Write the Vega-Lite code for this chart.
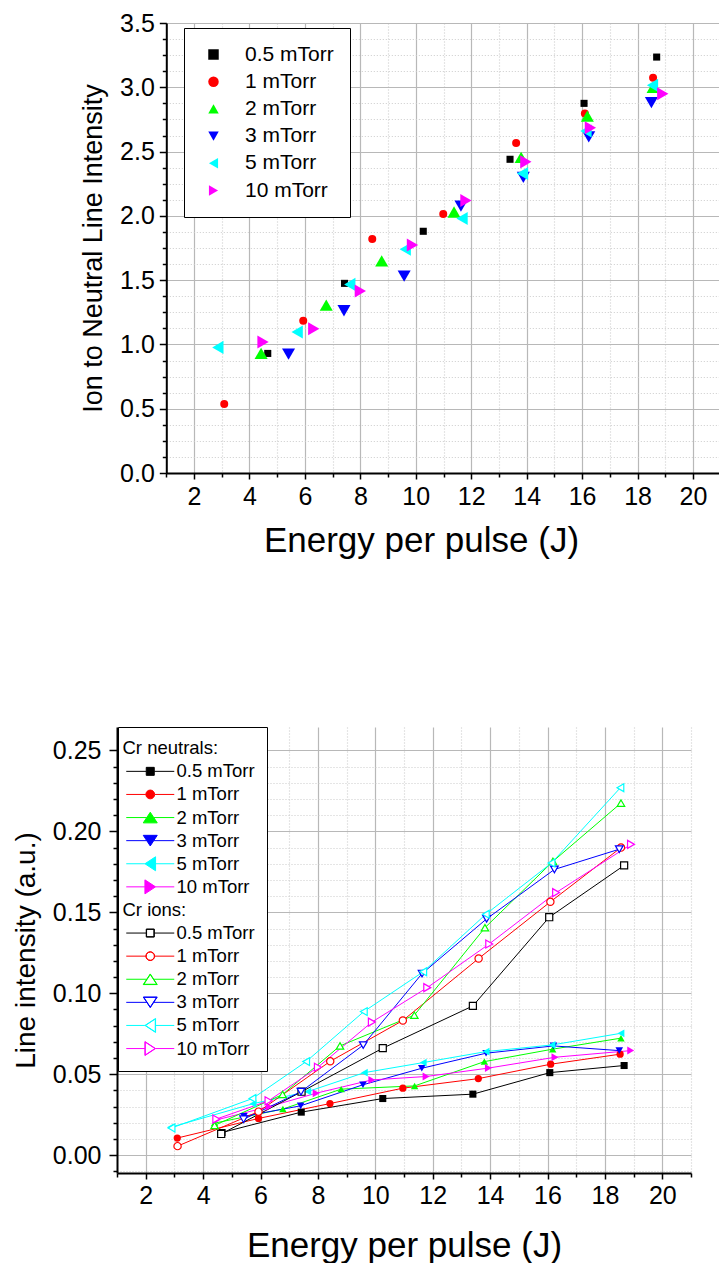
{
  "$schema": "https://vega.github.io/schema/vega-lite/v6.json",
  "padding": {"left": 12, "top": 11, "right": 0, "bottom": 0},
  "spacing": 168,
  "config": {"view": {"stroke": null}, "font": "Liberation Sans"},
  "resolve": {
    "scale": {"color": "independent", "shape": "independent", "size": "independent", "stroke": "independent"},
    "legend": {"color": "independent", "shape": "independent", "size": "independent", "stroke": "independent"}
  },
  "datasets": {
    "ratio": [
      {"p": "0.5 mTorr", "E": 4.66, "R": 0.93}, {"p": "0.5 mTorr", "E": 7.43, "R": 1.475}, {"p": "0.5 mTorr", "E": 10.27, "R": 1.88}, {"p": "0.5 mTorr", "E": 13.40, "R": 2.44}, {"p": "0.5 mTorr", "E": 16.07, "R": 2.875}, {"p": "0.5 mTorr", "E": 18.69, "R": 3.235},
      {"p": "1 mTorr", "E": 3.09, "R": 0.537}, {"p": "1 mTorr", "E": 5.94, "R": 1.185}, {"p": "1 mTorr", "E": 8.43, "R": 1.82}, {"p": "1 mTorr", "E": 10.99, "R": 2.014}, {"p": "1 mTorr", "E": 13.62, "R": 2.566}, {"p": "1 mTorr", "E": 16.10, "R": 2.797}, {"p": "1 mTorr", "E": 18.56, "R": 3.074},
      {"p": "2 mTorr", "E": 4.42, "R": 0.93}, {"p": "2 mTorr", "E": 6.77, "R": 1.306}, {"p": "2 mTorr", "E": 8.77, "R": 1.65}, {"p": "2 mTorr", "E": 11.38, "R": 2.03}, {"p": "2 mTorr", "E": 13.80, "R": 2.455}, {"p": "2 mTorr", "E": 16.19, "R": 2.776}, {"p": "2 mTorr", "E": 18.56, "R": 3.0},
      {"p": "3 mTorr", "E": 5.41, "R": 0.925}, {"p": "3 mTorr", "E": 7.41, "R": 1.262}, {"p": "3 mTorr", "E": 9.58, "R": 1.532}, {"p": "3 mTorr", "E": 11.63, "R": 2.076}, {"p": "3 mTorr", "E": 13.88, "R": 2.30}, {"p": "3 mTorr", "E": 16.24, "R": 2.615}, {"p": "3 mTorr", "E": 18.50, "R": 2.88},
      {"p": "5 mTorr", "E": 2.86, "R": 0.977}, {"p": "5 mTorr", "E": 5.72, "R": 1.096}, {"p": "5 mTorr", "E": 7.62, "R": 1.467}, {"p": "5 mTorr", "E": 9.62, "R": 1.74}, {"p": "5 mTorr", "E": 11.67, "R": 1.98}, {"p": "5 mTorr", "E": 13.85, "R": 2.33}, {"p": "5 mTorr", "E": 16.14, "R": 2.66}, {"p": "5 mTorr", "E": 18.54, "R": 3.015},
      {"p": "10 mTorr", "E": 4.49, "R": 1.019}, {"p": "10 mTorr", "E": 6.32, "R": 1.122}, {"p": "10 mTorr", "E": 8.00, "R": 1.415}, {"p": "10 mTorr", "E": 9.88, "R": 1.773}, {"p": "10 mTorr", "E": 11.81, "R": 2.12}, {"p": "10 mTorr", "E": 13.97, "R": 2.42}, {"p": "10 mTorr", "E": 16.30, "R": 2.685}, {"p": "10 mTorr", "E": 18.91, "R": 2.95}
    ],
    "lines": [
      {"t": "N", "p": "0.5 mTorr", "key": "N 0.5 mTorr", "E": 4.66, "I": 0.0140}, {"t": "N", "p": "0.5 mTorr", "key": "N 0.5 mTorr", "E": 7.42, "I": 0.0266}, {"t": "N", "p": "0.5 mTorr", "key": "N 0.5 mTorr", "E": 10.26, "I": 0.0350}, {"t": "N", "p": "0.5 mTorr", "key": "N 0.5 mTorr", "E": 13.40, "I": 0.0377}, {"t": "N", "p": "0.5 mTorr", "key": "N 0.5 mTorr", "E": 16.08, "I": 0.0510}, {"t": "N", "p": "0.5 mTorr", "key": "N 0.5 mTorr", "E": 18.67, "I": 0.0554},
      {"t": "N", "p": "1 mTorr", "key": "N 1 mTorr", "E": 3.10, "I": 0.0106}, {"t": "N", "p": "1 mTorr", "key": "N 1 mTorr", "E": 5.93, "I": 0.0227}, {"t": "N", "p": "1 mTorr", "key": "N 1 mTorr", "E": 8.42, "I": 0.0319}, {"t": "N", "p": "1 mTorr", "key": "N 1 mTorr", "E": 10.96, "I": 0.0414}, {"t": "N", "p": "1 mTorr", "key": "N 1 mTorr", "E": 13.59, "I": 0.0473}, {"t": "N", "p": "1 mTorr", "key": "N 1 mTorr", "E": 16.11, "I": 0.0562}, {"t": "N", "p": "1 mTorr", "key": "N 1 mTorr", "E": 18.53, "I": 0.0624},
      {"t": "N", "p": "2 mTorr", "key": "N 2 mTorr", "E": 4.40, "I": 0.0198}, {"t": "N", "p": "2 mTorr", "key": "N 2 mTorr", "E": 6.78, "I": 0.0285}, {"t": "N", "p": "2 mTorr", "key": "N 2 mTorr", "E": 8.81, "I": 0.0408}, {"t": "N", "p": "2 mTorr", "key": "N 2 mTorr", "E": 11.37, "I": 0.0428}, {"t": "N", "p": "2 mTorr", "key": "N 2 mTorr", "E": 13.80, "I": 0.0578}, {"t": "N", "p": "2 mTorr", "key": "N 2 mTorr", "E": 16.18, "I": 0.0655}, {"t": "N", "p": "2 mTorr", "key": "N 2 mTorr", "E": 18.56, "I": 0.0723},
      {"t": "N", "p": "3 mTorr", "key": "N 3 mTorr", "E": 5.42, "I": 0.0240}, {"t": "N", "p": "3 mTorr", "key": "N 3 mTorr", "E": 7.40, "I": 0.0305}, {"t": "N", "p": "3 mTorr", "key": "N 3 mTorr", "E": 9.57, "I": 0.0435}, {"t": "N", "p": "3 mTorr", "key": "N 3 mTorr", "E": 11.62, "I": 0.0537}, {"t": "N", "p": "3 mTorr", "key": "N 3 mTorr", "E": 13.86, "I": 0.0630}, {"t": "N", "p": "3 mTorr", "key": "N 3 mTorr", "E": 16.21, "I": 0.0675}, {"t": "N", "p": "3 mTorr", "key": "N 3 mTorr", "E": 18.50, "I": 0.0646},
      {"t": "N", "p": "5 mTorr", "key": "N 5 mTorr", "E": 2.86, "I": 0.0172}, {"t": "N", "p": "5 mTorr", "key": "N 5 mTorr", "E": 5.74, "I": 0.0318}, {"t": "N", "p": "5 mTorr", "key": "N 5 mTorr", "E": 7.65, "I": 0.0393}, {"t": "N", "p": "5 mTorr", "key": "N 5 mTorr", "E": 9.62, "I": 0.0510}, {"t": "N", "p": "5 mTorr", "key": "N 5 mTorr", "E": 11.67, "I": 0.0572}, {"t": "N", "p": "5 mTorr", "key": "N 5 mTorr", "E": 13.86, "I": 0.0640}, {"t": "N", "p": "5 mTorr", "key": "N 5 mTorr", "E": 16.16, "I": 0.0681}, {"t": "N", "p": "5 mTorr", "key": "N 5 mTorr", "E": 18.56, "I": 0.0753},
      {"t": "N", "p": "10 mTorr", "key": "N 10 mTorr", "E": 4.49, "I": 0.0219}, {"t": "N", "p": "10 mTorr", "key": "N 10 mTorr", "E": 6.30, "I": 0.0300}, {"t": "N", "p": "10 mTorr", "key": "N 10 mTorr", "E": 7.94, "I": 0.0383}, {"t": "N", "p": "10 mTorr", "key": "N 10 mTorr", "E": 9.88, "I": 0.0465}, {"t": "N", "p": "10 mTorr", "key": "N 10 mTorr", "E": 11.77, "I": 0.0486}, {"t": "N", "p": "10 mTorr", "key": "N 10 mTorr", "E": 13.94, "I": 0.0538}, {"t": "N", "p": "10 mTorr", "key": "N 10 mTorr", "E": 16.26, "I": 0.0605}, {"t": "N", "p": "10 mTorr", "key": "N 10 mTorr", "E": 18.90, "I": 0.0646},
      {"t": "I", "p": "0.5 mTorr", "key": "I 0.5 mTorr", "E": 4.63, "I": 0.0131}, {"t": "I", "p": "0.5 mTorr", "key": "I 0.5 mTorr", "E": 7.43, "I": 0.0392}, {"t": "I", "p": "0.5 mTorr", "key": "I 0.5 mTorr", "E": 10.26, "I": 0.0661}, {"t": "I", "p": "0.5 mTorr", "key": "I 0.5 mTorr", "E": 13.40, "I": 0.0922}, {"t": "I", "p": "0.5 mTorr", "key": "I 0.5 mTorr", "E": 16.06, "I": 0.1470}, {"t": "I", "p": "0.5 mTorr", "key": "I 0.5 mTorr", "E": 18.67, "I": 0.1790},
      {"t": "I", "p": "1 mTorr", "key": "I 1 mTorr", "E": 3.11, "I": 0.0056}, {"t": "I", "p": "1 mTorr", "key": "I 1 mTorr", "E": 5.93, "I": 0.0269}, {"t": "I", "p": "1 mTorr", "key": "I 1 mTorr", "E": 8.43, "I": 0.0580}, {"t": "I", "p": "1 mTorr", "key": "I 1 mTorr", "E": 10.96, "I": 0.0832}, {"t": "I", "p": "1 mTorr", "key": "I 1 mTorr", "E": 13.60, "I": 0.1215}, {"t": "I", "p": "1 mTorr", "key": "I 1 mTorr", "E": 16.10, "I": 0.1565}, {"t": "I", "p": "1 mTorr", "key": "I 1 mTorr", "E": 18.56, "I": 0.1900},
      {"t": "I", "p": "2 mTorr", "key": "I 2 mTorr", "E": 4.40, "I": 0.0184}, {"t": "I", "p": "2 mTorr", "key": "I 2 mTorr", "E": 6.77, "I": 0.0375}, {"t": "I", "p": "2 mTorr", "key": "I 2 mTorr", "E": 8.77, "I": 0.0675}, {"t": "I", "p": "2 mTorr", "key": "I 2 mTorr", "E": 11.36, "I": 0.0865}, {"t": "I", "p": "2 mTorr", "key": "I 2 mTorr", "E": 13.82, "I": 0.1405}, {"t": "I", "p": "2 mTorr", "key": "I 2 mTorr", "E": 16.19, "I": 0.1815}, {"t": "I", "p": "2 mTorr", "key": "I 2 mTorr", "E": 18.56, "I": 0.2175},
      {"t": "I", "p": "3 mTorr", "key": "I 3 mTorr", "E": 5.41, "I": 0.0222}, {"t": "I", "p": "3 mTorr", "key": "I 3 mTorr", "E": 7.41, "I": 0.0392}, {"t": "I", "p": "3 mTorr", "key": "I 3 mTorr", "E": 9.58, "I": 0.0680}, {"t": "I", "p": "3 mTorr", "key": "I 3 mTorr", "E": 11.63, "I": 0.1122}, {"t": "I", "p": "3 mTorr", "key": "I 3 mTorr", "E": 13.88, "I": 0.1460}, {"t": "I", "p": "3 mTorr", "key": "I 3 mTorr", "E": 16.24, "I": 0.1765}, {"t": "I", "p": "3 mTorr", "key": "I 3 mTorr", "E": 18.50, "I": 0.1890},
      {"t": "I", "p": "5 mTorr", "key": "I 5 mTorr", "E": 2.90, "I": 0.0168}, {"t": "I", "p": "5 mTorr", "key": "I 5 mTorr", "E": 5.72, "I": 0.0350}, {"t": "I", "p": "5 mTorr", "key": "I 5 mTorr", "E": 7.59, "I": 0.0578}, {"t": "I", "p": "5 mTorr", "key": "I 5 mTorr", "E": 9.60, "I": 0.0887}, {"t": "I", "p": "5 mTorr", "key": "I 5 mTorr", "E": 11.67, "I": 0.1133}, {"t": "I", "p": "5 mTorr", "key": "I 5 mTorr", "E": 13.85, "I": 0.1488}, {"t": "I", "p": "5 mTorr", "key": "I 5 mTorr", "E": 16.14, "I": 0.1805}, {"t": "I", "p": "5 mTorr", "key": "I 5 mTorr", "E": 18.54, "I": 0.2270},
      {"t": "I", "p": "10 mTorr", "key": "I 10 mTorr", "E": 4.46, "I": 0.0223}, {"t": "I", "p": "10 mTorr", "key": "I 10 mTorr", "E": 6.28, "I": 0.0336}, {"t": "I", "p": "10 mTorr", "key": "I 10 mTorr", "E": 8.00, "I": 0.0543}, {"t": "I", "p": "10 mTorr", "key": "I 10 mTorr", "E": 9.88, "I": 0.0822}, {"t": "I", "p": "10 mTorr", "key": "I 10 mTorr", "E": 11.81, "I": 0.1035}, {"t": "I", "p": "10 mTorr", "key": "I 10 mTorr", "E": 13.97, "I": 0.1305}, {"t": "I", "p": "10 mTorr", "key": "I 10 mTorr", "E": 16.30, "I": 0.1622}, {"t": "I", "p": "10 mTorr", "key": "I 10 mTorr", "E": 18.91, "I": 0.1920}
    ]
  },
  "vconcat": [
    {
      "width": 603.7,
      "height": 450,
      "data": {"name": "ratio"},
      "encoding": {
        "x": {
          "field": "E", "type": "quantitative",
          "scale": {"domain": [1, 21], "range": [49.3, 603.7], "nice": false, "zero": false},
          "axis": {
            "title": "Energy per pulse (J)",
            "values": [1, 2, 3, 4, 5, 6, 7, 8, 9, 10, 11, 12, 13, 14, 15, 16, 17, 18, 19, 20, 21],
            "format": "d",
            "labelExpr": "indexof([2,4,6,8,10,12,14,16,18,20], datum.value) >= 0 ? datum.label : ''",
            "grid": true,
            "gridColor": {"condition": {"test": "indexof([2,4,6,8,10,12,14,16,18,20], datum.value) >= 0", "value": "#b8b8b8"}, "value": "#cccccc"},
            "gridDash": {"condition": {"test": "indexof([2,4,6,8,10,12,14,16,18,20], datum.value) >= 0", "value": []}, "value": [1, 2]},
            "gridWidth": 1.2,
            "tickSize": {"condition": {"test": "indexof([2,4,6,8,10,12,14,16,18,20], datum.value) >= 0", "value": 6}, "value": 4},
            "tickColor": "#000", "tickWidth": 1.5,
            "domainColor": "#000", "domainWidth": 2,
            "labelFont": "Liberation Sans", "labelFontSize": 25, "labelColor": "#000", "labelPadding": 5,
            "labelOverlap": false, "labelFlush": false, "labelBound": false,
            "titleFont": "Liberation Sans", "titleFontSize": 35, "titleFontWeight": "normal", "titleColor": "#000", "titlePadding": 14,
            "titleX": 304
          }
        },
        "y": {
          "field": "R", "type": "quantitative",
          "scale": {"domain": [0, 3.5], "nice": false, "zero": false},
          "axis": {
            "title": "Ion to Neutral Line Intensity",
            "offset": -49.3,
            "values": [0, 0.125, 0.25, 0.375, 0.5, 0.625, 0.75, 0.875, 1, 1.125, 1.25, 1.375, 1.5, 1.625, 1.75, 1.875, 2, 2.125, 2.25, 2.375, 2.5, 2.625, 2.75, 2.875, 3, 3.125, 3.25, 3.375, 3.5],
            "labelExpr": "abs(datum.value*2 - round(datum.value*2)) < 0.001 ? format(datum.value, '.1f') : ''",
            "grid": true,
            "gridColor": {"condition": {"test": "abs(datum.value*2 - round(datum.value*2)) < 0.001", "value": "#b8b8b8"}, "value": "#cccccc"},
            "gridDash": {"condition": {"test": "abs(datum.value*2 - round(datum.value*2)) < 0.001", "value": []}, "value": [1, 2]},
            "gridWidth": 1.2,
            "tickSize": {"condition": {"test": "abs(datum.value*2 - round(datum.value*2)) < 0.001", "value": 7}, "value": 4},
            "tickColor": "#000", "tickWidth": 1.5,
            "domainColor": "#000", "domainWidth": 2,
            "labelFont": "Liberation Sans", "labelFontSize": 25, "labelColor": "#000", "labelPadding": 5,
            "labelOverlap": false, "labelFlush": false, "labelBound": false,
            "titleFont": "Liberation Sans", "titleFontSize": 27, "titleFontWeight": "normal", "titleColor": "#000", "titlePadding": 12
          }
        },
        "color": {
          "field": "p", "type": "nominal",
          "scale": {"domain": ["0.5 mTorr", "1 mTorr", "2 mTorr", "3 mTorr", "5 mTorr", "10 mTorr"], "range": ["#000000", "#ff0000", "#00ff00", "#0000ff", "#00ffff", "#ff00ff"]},
          "legend": {
            "title": null, "orient": "none", "legendX": 67, "legendY": 5,
            "strokeColor": "#000", "fillColor": "#ffffff", "padding": 16,
            "labelFont": "Liberation Sans", "labelFontSize": 21, "labelColor": "#000",
            "rowPadding": 5.2, "symbolOffset": 3, "labelOffset": 21, "symbolStrokeWidth": 0, "symbolSize": 110
          }
        },
        "shape": {
          "field": "p", "type": "nominal",
          "scale": {"domain": ["0.5 mTorr", "1 mTorr", "2 mTorr", "3 mTorr", "5 mTorr", "10 mTorr"], "range": ["square", "circle", "triangle-up", "triangle-down", "triangle-left", "triangle-right"]}
        }
      },
      "layer": [
        {"transform": [{"filter": "datum.p == '0.5 mTorr'"}], "mark": {"type": "point", "filled": true, "opacity": 1, "size": 50}},
        {"transform": [{"filter": "datum.p == '1 mTorr'"}], "mark": {"type": "point", "filled": true, "opacity": 1, "size": 64}},
        {"transform": [{"filter": "datum.p == '2 mTorr'"}], "mark": {"type": "point", "filled": true, "opacity": 1, "size": 170}},
        {"transform": [{"filter": "datum.p == '3 mTorr'"}], "mark": {"type": "point", "filled": true, "opacity": 1, "size": 170}},
        {"transform": [{"filter": "datum.p == '5 mTorr'"}], "mark": {"type": "point", "filled": true, "opacity": 1, "size": 170}},
        {"transform": [{"filter": "datum.p == '10 mTorr'"}], "mark": {"type": "point", "filled": true, "opacity": 1, "size": 170}}
      ]
    },
    {
      "width": 574,
      "height": 446,
      "data": {"name": "lines"},
      "encoding": {
        "x": {
          "field": "E", "type": "quantitative",
          "scale": {"domain": [1, 21], "nice": false, "zero": false},
          "axis": {
            "title": "Energy per pulse (J)",
            "values": [1, 2, 3, 4, 5, 6, 7, 8, 9, 10, 11, 12, 13, 14, 15, 16, 17, 18, 19, 20, 21],
            "format": "d",
            "labelExpr": "indexof([2,4,6,8,10,12,14,16,18,20], datum.value) >= 0 ? datum.label : ''",
            "grid": true,
            "gridColor": {"condition": {"test": "indexof([2,4,6,8,10,12,14,16,18,20], datum.value) >= 0", "value": "#b8b8b8"}, "value": "#cccccc"},
            "gridDash": {"condition": {"test": "indexof([2,4,6,8,10,12,14,16,18,20], datum.value) >= 0", "value": []}, "value": [1, 2]},
            "gridWidth": 1.2,
            "tickSize": {"condition": {"test": "indexof([2,4,6,8,10,12,14,16,18,20], datum.value) >= 0", "value": 6}, "value": 4},
            "tickColor": "#000", "tickWidth": 1.5,
            "domainColor": "#000", "domainWidth": 2,
            "labelFont": "Liberation Sans", "labelFontSize": 25, "labelColor": "#000", "labelPadding": 4,
            "labelOverlap": false, "labelFlush": false, "labelBound": false,
            "titleFont": "Liberation Sans", "titleFontSize": 35, "titleFontWeight": "normal", "titleColor": "#000", "titlePadding": 20
          }
        },
        "y": {
          "field": "I", "type": "quantitative",
          "scale": {"domain": [-0.011, 0.2645], "nice": false, "zero": false},
          "axis": {
            "title": "Line intensity (a.u.)",
            "values": [-0.01, 0, 0.01, 0.02, 0.03, 0.04, 0.05, 0.06, 0.07, 0.08, 0.09, 0.1, 0.11, 0.12, 0.13, 0.14, 0.15, 0.16, 0.17, 0.18, 0.19, 0.2, 0.21, 0.22, 0.23, 0.24, 0.25],
            "labelExpr": "indexof([0,5,10,15,20,25], round(datum.value*100)) >= 0 ? format(datum.value, '.2f') : ''",
            "grid": true,
            "gridColor": {"condition": {"test": "indexof([0,5,10,15,20,25], round(datum.value*100)) >= 0", "value": "#b8b8b8"}, "value": "#cccccc"},
            "gridDash": {"condition": {"test": "indexof([0,5,10,15,20,25], round(datum.value*100)) >= 0", "value": []}, "value": [1, 2]},
            "gridWidth": 1.2,
            "tickSize": {"condition": {"test": "indexof([0,5,10,15,20,25], round(datum.value*100)) >= 0", "value": 8}, "value": 4},
            "tickColor": "#000", "tickWidth": 1.5,
            "domainColor": "#000", "domainWidth": 2,
            "labelFont": "Liberation Sans", "labelFontSize": 25, "labelColor": "#000", "labelPadding": 8,
            "labelOverlap": false, "labelFlush": false, "labelBound": false,
            "titleFont": "Liberation Sans", "titleFontSize": 28, "titleFontWeight": "normal", "titleColor": "#000", "titlePadding": 12
          }
        },
        "color": {
          "field": "key", "type": "nominal",
          "scale": {
            "domain": ["Cr neutrals:", "N 0.5 mTorr", "N 1 mTorr", "N 2 mTorr", "N 3 mTorr", "N 5 mTorr", "N 10 mTorr", "Cr ions:", "I 0.5 mTorr", "I 1 mTorr", "I 2 mTorr", "I 3 mTorr", "I 5 mTorr", "I 10 mTorr"],
            "range": ["#ffffff", "#000000", "#ff0000", "#00ff00", "#0000ff", "#00ffff", "#ff00ff", "#ffffff", "#000000", "#ff0000", "#00ff00", "#0000ff", "#00ffff", "#ff00ff"]
          },
          "legend": {
            "title": null, "orient": "none", "legendX": 1, "legendY": 0,
            "values": ["Cr neutrals:", "N 0.5 mTorr", "N 1 mTorr", "N 2 mTorr", "N 3 mTorr", "N 5 mTorr", "N 10 mTorr", "Cr ions:", "I 0.5 mTorr", "I 1 mTorr", "I 2 mTorr", "I 3 mTorr", "I 5 mTorr", "I 10 mTorr"],
            "labelExpr": "indexof(datum.label, ':') > 0 ? datum.label : slice(datum.label, 2)",
            "strokeColor": "#000", "fillColor": "#ffffff", "padding": 12,
            "labelFont": "Liberation Sans", "labelFontSize": 18.5, "labelColor": "#000",
            "rowPadding": 4.1, "symbolOffset": 11, "labelOffset": 17, "symbolSize": 64,
            "encode": {
              "symbols": {"update": {
                "shape": {"signal": "{'N 0.5 mTorr': 'M-6,0H-1M1,0H6M-1,-1H1V1H-1Z', 'N 1 mTorr': 'M-6,0H-1.1M1.1,0H6M-1.1,0A1.1,1.1,0,1,0,1.1,0A1.1,1.1,0,1,0,-1.1,0Z', 'N 2 mTorr': 'M-6,0H-0.87M0.87,0H6M0,-1.33L1.75,1.33L-1.75,1.33Z', 'N 3 mTorr': 'M-6,0H-0.87M0.87,0H6M0,1.33L1.75,-1.33L-1.75,-1.33Z', 'N 5 mTorr': 'M-6,0H-1.33M1.33,0H6M-1.33,0L1.33,-1.75L1.33,1.75Z', 'N 10 mTorr': 'M-6,0H-1.33M1.33,0H6M1.33,0L-1.33,-1.75L-1.33,1.75Z', 'I 0.5 mTorr': 'M-6,0H-1M1,0H6M-1,-1H1V1H-1ZM-0.92,-0.92V0.92H0.92V-0.92Z', 'I 1 mTorr': 'M-6,0H-1.1M1.1,0H6M-1.1,0A1.1,1.1,0,1,0,1.1,0A1.1,1.1,0,1,0,-1.1,0ZM-1.02,0A1.02,1.02,0,1,1,1.02,0A1.02,1.02,0,1,1,-1.02,0Z', 'I 2 mTorr': 'M-6,0H-0.87M0.87,0H6M0,-1.33L1.75,1.33L-1.75,1.33ZM0,-1.18L-1.6,1.25L1.6,1.25Z', 'I 3 mTorr': 'M-6,0H-0.87M0.87,0H6M0,1.33L1.75,-1.33L-1.75,-1.33ZM0,1.18L-1.6,-1.25L1.6,-1.25Z', 'I 5 mTorr': 'M-6,0H-1.33M1.33,0H6M-1.33,0L1.33,-1.75L1.33,1.75ZM-1.18,0L1.25,1.6L1.25,-1.6Z', 'I 10 mTorr': 'M-6,0H-1.33M1.33,0H6M1.33,0L-1.33,-1.75L-1.33,1.75ZM1.18,0L-1.25,1.6L-1.25,-1.6Z'}[datum.value] || 'M0,0'"},
                "strokeWidth": {"value": 1},
                "size": {"value": 64}
              }},
              "labels": {"update": {"dx": {"signal": "indexof(datum.value, ':') > 0 ? -54 : 0"}}}
            }
          }
        }
      },
      "layer": [
        {
          "mark": {"type": "line", "strokeWidth": 1}
        },
        {
          "transform": [{"filter": "datum.t == 'N'"}],
          "mark": {"type": "point", "filled": true, "opacity": 1},
          "encoding": {
            "shape": {
              "field": "key", "type": "nominal",
              "scale": {
                "domain": ["N 0.5 mTorr", "N 1 mTorr", "N 2 mTorr", "N 3 mTorr", "N 5 mTorr", "N 10 mTorr", "I 0.5 mTorr", "I 1 mTorr", "I 2 mTorr", "I 3 mTorr", "I 5 mTorr", "I 10 mTorr"],
                "range": ["square", "circle", "triangle-up", "triangle-down", "triangle-left", "triangle-right", "square", "circle", "triangle-up", "triangle-down", "triangle-left", "triangle-right"]
              },
              "legend": null
            },
            "size": {
              "field": "p", "type": "ordinal",
              "scale": {"domain": ["0.5 mTorr", "1 mTorr", "2 mTorr", "3 mTorr", "5 mTorr", "10 mTorr"], "range": [50, 64, 160, 160, 160, 160]},
              "legend": null
            }
          }
        },
        {
          "transform": [{"filter": "datum.t == 'I'"}],
          "mark": {"type": "point", "filled": true, "strokeWidth": 1.2, "opacity": 1},
          "encoding": {
            "color": {"value": "#ffffff"},
            "stroke": {
              "field": "key", "type": "nominal",
              "scale": {"domain": ["I 0.5 mTorr", "I 1 mTorr", "I 2 mTorr", "I 3 mTorr", "I 5 mTorr", "I 10 mTorr"], "range": ["#000000", "#ff0000", "#00ff00", "#0000ff", "#00ffff", "#ff00ff"]},
              "legend": null
            },
            "shape": {"field": "key", "type": "nominal", "legend": null},
            "size": {"field": "p", "type": "ordinal", "legend": null}
          }
        }
      ]
    }
  ]
}
